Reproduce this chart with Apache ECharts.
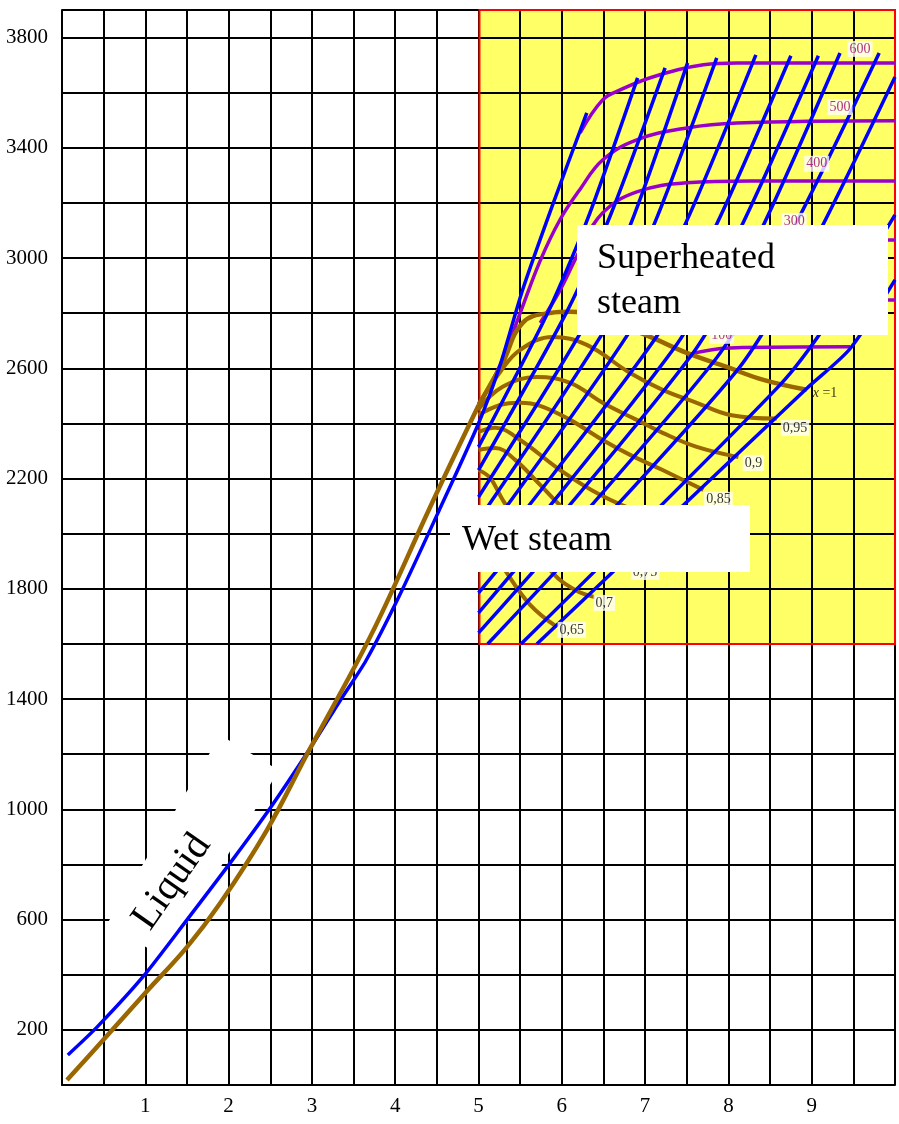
<!DOCTYPE html>
<html>
<head>
    <meta charset="utf-8"/>
    <script src="https://cdn.jsdelivr.net/npm/echarts/dist/echarts.min.js"></script>
    <style>html, body { margin: 0; padding: 0; background: #fff; }</style>
</head>
<body>
<div id="main" style="width: 899px;height:1124px;"></div>
<script type="text/javascript">
    // h-s diagram of water: x = entropy s, y = enthalpy h
    var xTicks = [1, 2, 3, 4, 5, 6, 7, 8, 9];
    var yTicks = [200, 600, 1000, 1400, 1800, 2200, 2600, 3000, 3400, 3800];

    // yellow region (s from..to, h from..to)
    var regionS = [5, 10];
    var regionH = [1600, 3900];

    // saturated liquid line and dry saturated steam line (x = 1)
    var liquidSat = [[0.06, 18], [0.5, 165], [1.0, 334], [1.5, 500], [1.9, 660], [2.46, 925], [2.95, 1205],
        [3.5, 1510], [3.82, 1700], [4.42, 2097], [5.0, 2465]];
    var drySat = [[5.0, 2465], [5.14, 2540], [5.29, 2619], [5.53, 2765], [5.86, 2801], [6.1, 2805], [6.46, 2783],
        [7.06, 2714], [7.5, 2656], [7.98, 2605], [8.42, 2558], [8.94, 2522]];

    // lines of constant quality x
    var q95 = [[5.0, 2470], [5.26, 2587], [5.5, 2667], [5.89, 2714], [6.3, 2685], [6.82, 2583], [7.21, 2522],
        [7.62, 2475], [8.02, 2431], [8.58, 2418]];
    var q90 = [[5.0, 2452], [5.29, 2533], [5.7, 2569], [6.1, 2547], [6.49, 2475], [6.9, 2413], [7.21, 2366],
        [7.62, 2315], [8.12, 2278]];
    var q85 = [[5.0, 2431], [5.26, 2467], [5.5, 2475], [5.74, 2464], [6.1, 2413], [6.49, 2340], [6.82, 2286],
        [7.21, 2231], [7.7, 2159]];
    var q80 = [[5.0, 2369], [5.2, 2384], [5.5, 2340], [5.98, 2231], [6.46, 2141], [6.94, 2079], [7.32, 2057]];
    var q75 = [[5.0, 2304], [5.2, 2311], [5.44, 2268], [5.74, 2177], [6.04, 2086], [6.46, 1977], [6.79, 1905]];
    var q70 = [[5.0, 2231], [5.14, 2202], [5.29, 2123], [5.56, 1996], [5.89, 1858], [6.16, 1796], [6.4, 1770]];
    var q65 = [[5.0, 2050], [5.14, 1959], [5.34, 1858], [5.62, 1742], [5.94, 1662]];

    // isobars (blue)
    var isobarHigh = [[0.07, 109], [0.42, 210], [0.97, 392], [1.5, 599], [2.02, 806], [2.5, 1005], [2.95, 1208],
        [3.34, 1395], [3.65, 1540], [4.05, 1775], [4.52, 2080], [5.0, 2400], [5.26, 2612], [5.53, 2885], [5.89, 3193],
        [6.3, 3527]];
    var isobar2 = [[5.0, 2315], [5.83, 2801], [6.31, 3142], [6.91, 3654]];
    var isobar3 = [[5.0, 2231], [6.06, 2805], [6.59, 3160], [7.24, 3690]];
    var isobar4 = [[5.0, 2133], [6.34, 2790], [6.87, 3157], [7.51, 3708]];
    var isobar5 = [[5.0, 2050], [6.57, 2768], [7.15, 3153], [7.86, 3726]];
    var isobar6 = [[5.0, 1959], [6.82, 2736], [7.5, 3135], [8.33, 3737]];
    var isobar7 = [[5.0, 1869], [7.12, 2707], [7.85, 3117], [8.75, 3734]];
    var isobar8 = [[5.0, 1785], [7.36, 2678], [8.13, 3099], [9.08, 3734]];
    var isobar9 = [[5.0, 1713], [7.56, 2649], [8.37, 3088], [9.34, 3744]];
    var isobar10 = [[5.0, 1640], [7.82, 2623], [8.72, 3073], [9.81, 3744]];
    var isobar11 = [[5.11, 1600], [8.1, 2591], [8.96, 3019], [10.0, 3657]];
    var isobar12 = [[5.51, 1600], [8.62, 2540], [9.24, 2787], [10.0, 3157]];
    var isobar13 = [[5.7, 1600], [8.94, 2527], [9.46, 2671], [10.0, 2921]];

    // isotherms (purple), degrees C
    var t600 = [[6.22, 3454], [6.49, 3574], [6.7, 3610], [7.09, 3657], [7.7, 3701], [8.1, 3708], [10.0, 3708]];
    var t500 = [[5.14, 2540], [5.3, 2640], [5.5, 2800], [5.74, 2990], [5.98, 3140], [6.22, 3250], [6.49, 3356],
        [6.9, 3429], [7.5, 3472], [8.1, 3490], [10.0, 3498]];
    var t400 = [[5.74, 2765], [5.98, 2884], [6.22, 3030], [6.49, 3164], [6.9, 3240], [7.5, 3273], [8.26, 3280], [10.0, 3280]];
    var t300 = [[6.28, 2801], [6.46, 2884], [6.82, 2975], [7.42, 3037], [8.26, 3059], [10.0, 3066]];
    var t200 = [[6.76, 2747], [7.06, 2812], [7.66, 2841], [10.0, 2848]];
    var t100 = [[7.5, 2649], [8.02, 2674], [9.46, 2678]];

    // curve labels
    var tempLabels = ['600', '500', '400', '300', '100'];
    var tempLabelAt = [[9.58, 3759], [9.34, 3548], [9.06, 3342], [8.79, 3135], [7.92, 2718]];
    var qualLabels = ['0,95', '0,9', '0,85', '0,8', '0,75', '0,7', '0,65'];
    var qualLabelAt = [[8.8, 2384], [8.3, 2257], [7.88, 2123], [7.52, 1996], [7.0, 1861], [6.51, 1749], [6.12, 1651]];
    var dryLabelAt = [9.16, 2511];

    var serif = '"Liberation Serif", "Times New Roman", serif';
    var BLUE = '#0000ff', BROWN = '#996600', PURPLE = '#9900cc';

    var myChart = echarts.init(document.getElementById('main'));

    function curve(data, color, width, z, smooth) {
        return {
            type: 'line', data: data, symbol: 'none', showSymbol: false, silent: true,
            smooth: smooth, lineStyle: {color: color, width: width}, z: z
        };
    }

    function labelSeries(names, pos, color, bg, z) {
        return {
            type: 'scatter', symbolSize: 0, silent: true, z: z,
            data: pos.map(function (p, i) { return {name: names[i], value: p}; }),
            label: {
                show: true, position: 'inside', formatter: '{b}', color: color,
                fontFamily: serif, fontSize: 14, backgroundColor: bg, padding: [1, 2]
            }
        };
    }

    var series = [];
    // yellow fill below the grid
    series.push({
        type: 'custom', z: 0, silent: true, data: [[regionS[0], regionH[0]]],
        renderItem: function (params, api) {
            var a = api.coord([regionS[0], regionH[1]]);
            var b = api.coord([regionS[1], regionH[0]]);
            return {type: 'rect', shape: {x: a[0], y: a[1], width: b[0] - a[0], height: b[1] - a[1]},
                style: {fill: '#ffff66'}};
        }
    });
    // red frame over the grid
    series.push({
        type: 'custom', z: 1.5, silent: true, data: [[regionS[0], regionH[0]]],
        renderItem: function (params, api) {
            var a = api.coord([regionS[0], regionH[1]]);
            var b = api.coord([regionS[1], regionH[0]]);
            return {type: 'rect', shape: {x: a[0] + 1, y: a[1], width: b[0] - a[0] - 1, height: b[1] - a[1]},
                style: {fill: 'none', stroke: '#ff0000', lineWidth: 2}};
        }
    });

    [t600, t500, t400, t300, t200, t100].forEach(function (d) {
        series.push(curve(d, PURPLE, 3.5, 2, 0.4));
    });
    [q95, q90, q85, q80, q75, q70, q65].forEach(function (d) {
        series.push(curve(d, BROWN, 4, 3, 0.4));
    });
    series.push(curve(drySat, BROWN, 4.5, 3, 0.4));
    [isobarHigh, isobar2, isobar3, isobar4, isobar5, isobar6, isobar7, isobar8, isobar9, isobar10,
        isobar11, isobar12, isobar13].forEach(function (d) {
        series.push(curve(d, BLUE, 3.5, 4, 0.25));
    });
    series.push(curve(liquidSat, BROWN, 4.5, 5, 0.4));

    series.push(labelSeries(tempLabels, tempLabelAt, '#990066', '#ffffff', 6));
    series.push(labelSeries(qualLabels, qualLabelAt, '#000000', '#ffffff', 6));
    series.push({
        type: 'scatter', symbolSize: 0, silent: true, z: 6,
        data: [{name: 'x=1', value: dryLabelAt}],
        label: {
            show: true, position: 'inside', formatter: '{i|x}{n| =1}',
            rich: {
                i: {fontStyle: 'italic', fontFamily: serif, fontSize: 14, color: '#000'},
                n: {fontFamily: serif, fontSize: 14, color: '#000'}
            }
        }
    });

    option = {
        animation: false,
        backgroundColor: '#ffffff',
        textStyle: {fontFamily: serif},
        grid: {left: 62, top: 10, width: 833, height: 1075},
        xAxis: {
            type: 'value', min: 0, max: 10, interval: 0.5, z: 1,
            axisLine: {show: true, onZero: false, lineStyle: {color: '#000', width: 2}},
            axisTick: {show: false},
            splitLine: {show: true, lineStyle: {color: '#000', width: 2}},
            axisLabel: {
                margin: 11, fontSize: 21, color: '#000', fontFamily: serif,
                formatter: function (v) { return xTicks.indexOf(v) >= 0 ? String(v) : ''; }
            }
        },
        yAxis: {
            type: 'value', min: 0, max: 3900, interval: 200, z: 1,
            axisLine: {show: true, onZero: false, lineStyle: {color: '#000', width: 2}},
            axisTick: {show: false},
            splitLine: {show: true, lineStyle: {color: '#000', width: 2}},
            axisLabel: {
                margin: 14, fontSize: 21, color: '#000', fontFamily: serif, padding: [7, 0, 0, 0],
                formatter: function (v) { return yTicks.indexOf(v) >= 0 ? String(v) : ''; }
            }
        },
        series: series,
        graphic: {
            elements: [
                {type: 'rect', z: 10, shape: {x: 577, y: 225, width: 311, height: 110}, style: {fill: '#fff'}},
                {type: 'text', z: 11, x: 597, y: 259,
                    style: {text: 'Superheated', font: '36px "Liberation Serif"', fill: '#000', verticalAlign: 'middle'}},
                {type: 'text', z: 11, x: 597, y: 304,
                    style: {text: 'steam', font: '36px "Liberation Serif"', fill: '#000', verticalAlign: 'middle'}},
                {type: 'rect', z: 10, shape: {x: 450, y: 505, width: 300, height: 67}, style: {fill: '#fff'}},
                {type: 'text', z: 11, x: 462, y: 541,
                    style: {text: 'Wet steam', font: '36px "Liberation Serif"', fill: '#000', verticalAlign: 'middle'}},
                // the white patch behind "Liquid" sits under the curves
                {type: 'rect', z: 1.7, x: 193, y: 847, rotation: 59 * Math.PI / 180,
                    shape: {x: -110, y: -34, width: 220, height: 68}, style: {fill: '#fff'}},
                {type: 'text', z: 1.8, x: 172, y: 882, rotation: 55 * Math.PI / 180,
                    style: {text: 'Liquid', font: '40px "Liberation Serif"', fill: '#000',
                        align: 'center', verticalAlign: 'middle'}}
            ]
        }
    };

    myChart.setOption(option);
</script>
</body>
</html>
